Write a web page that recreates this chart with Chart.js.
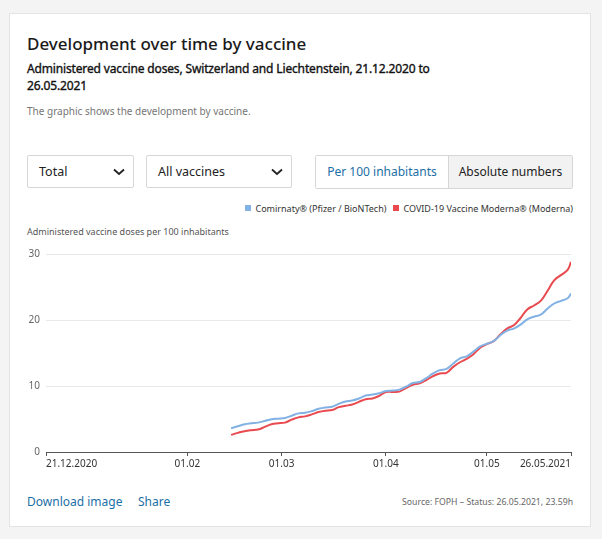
<!DOCTYPE html>
<html>
<head>
<meta charset="utf-8">
<script src="https://cdn.jsdelivr.net/npm/chart.js@4/dist/chart.umd.min.js"></script>
<style>
	body { margin: 0; background: #f4f4f4; font-family: "Noto Sans", sans-serif; }
	#page { position: relative; width: 602px; height: 539px; overflow: hidden; }
	#card { position: absolute; left: 9px; top: 13px; width: 580px; height: 512px; background: #fff; border: 1px solid #e4e4e4; }
	.abs { position: absolute; white-space: nowrap; }
	#title { left: 27px; top: 32px; font-size: 17px; font-weight: 500; color: #1a1a1a; }
	#subtitle { left: 27px; top: 60px; font-size: 12px; color: #111; line-height: 17px; letter-spacing: -0.15px; -webkit-text-stroke: 0.35px #111; }
	#desc { left: 27px; top: 104px; font-size: 10px; color: #767676; }
	.select { position: absolute; top: 155px; height: 33px; border: 1px solid #d6d6d6; border-radius: 2px; box-sizing: border-box; font-size: 12.5px; color: #222; line-height: 31px; padding-left: 11px; }
	.select svg { position: absolute; right: 8px; top: 12px; }
	#toggle { position: absolute; left: 315px; top: 155px; width: 258px; height: 34px; border: 1px solid #d6d6d6; border-radius: 2px; box-sizing: border-box; display: flex; font-size: 12px; line-height: 32px; }
	#toggle div { text-align: center; }
	#legend { right: 29px; top: 202px; font-size: 9px; color: #333; }
	#legend span.box { display: inline-block; width: 6px; height: 6px; margin: 0 4px 1px 0; }
	#axis-title { left: 27px; top: 225px; font-size: 9px; color: #555; }
	#chart-box { position: absolute; left: 0; top: 240px; width: 602px; height: 234px; }
	.link { top: 493px; font-size: 12px; color: #1b6fa6; }
	#source { right: 29px; top: 496px; font-size: 8.7px; color: #666; }
</style>
</head>
<body>
<div id="page">
	<div id="card"></div>
	<div class="abs" id="title">Development over time by vaccine</div>
	<div class="abs" id="subtitle">Administered vaccine doses, Switzerland and Liechtenstein, 21.12.2020 to<br>26.05.2021</div>
	<div class="abs" id="desc">The graphic shows the development by vaccine.</div>

	<div class="select" style="left:27px; width:107px;">Total
		<svg width="12" height="8" viewBox="0 0 12 8"><path d="M1 1.5 L6 6 L11 1.5" fill="none" stroke="#222" stroke-width="1.8"/></svg>
	</div>
	<div class="select" style="left:146px; width:146px;">All vaccines
		<svg width="12" height="8" viewBox="0 0 12 8"><path d="M1 1.5 L6 6 L11 1.5" fill="none" stroke="#222" stroke-width="1.8"/></svg>
	</div>
	<div id="toggle">
		<div style="width:132px; color:#1b6fa6; background:#fff;">Per 100 inhabitants</div>
		<div style="flex:1; color:#222; background:#f2f2f2; border-left:1px solid #d6d6d6;">Absolute numbers</div>
	</div>

	<div class="abs" id="legend">
		<span class="box" style="background:#82b1e3"></span>Comirnaty® (Pfizer / BioNTech)&nbsp;&nbsp;
		<span class="box" style="background:#e84a4f"></span>COVID-19 Vaccine Moderna® (Moderna)
	</div>
	<div class="abs" id="axis-title">Administered vaccine doses per 100 inhabitants</div>

	<div id="chart-box"><canvas id="line-chart"></canvas></div>

	<div class="abs link" style="left:27px;">Download image</div>
	<div class="abs link" style="left:138px;">Share</div>
	<div class="abs" id="source">Source: FOPH – Status: 26.05.2021, 23.59h</div>
</div>

<script>
	// Days since 21.12.2020
	var days = [55, 57, 59, 61, 63, 65, 67, 69, 71, 73, 75, 77, 79, 81, 83, 85, 87, 89, 91, 93,
		95, 97, 99, 101, 103, 105, 107, 109, 111, 113, 115, 117, 119, 121, 123, 125, 127, 129, 131, 133,
		135, 137, 139, 141, 143, 145, 147, 149, 151, 153, 155, 156];

	// Doses per 100 inhabitants
	var pfizer = [3.6, 3.9, 4.2, 4.35, 4.45, 4.7, 4.95, 5.05, 5.15, 5.5, 5.85, 5.95, 6.2, 6.55, 6.75, 6.85, 7.3, 7.65, 7.8, 8.1,
		8.55, 8.7, 8.9, 9.25, 9.3, 9.45, 9.9, 10.45, 10.6, 11.2, 11.9, 12.4, 12.6, 13.4, 14.2, 14.5, 15.2, 16.0, 16.4, 16.8,
		17.7, 18.4, 18.7, 19.3, 20.1, 20.5, 20.8, 21.7, 22.5, 22.9, 23.3, 24.0];
	var moderna = [2.6, 2.9, 3.15, 3.3, 3.4, 3.8, 4.2, 4.35, 4.45, 4.9, 5.25, 5.4, 5.7, 6.05, 6.25, 6.35, 6.8, 7.0, 7.2, 7.6,
		8.0, 8.1, 8.5, 9.1, 9.1, 9.15, 9.7, 10.2, 10.4, 10.9, 11.5, 11.9, 12.0, 12.9, 13.6, 14.1, 14.8, 15.8, 16.35, 16.8,
		17.8, 18.7, 19.2, 20.3, 21.6, 22.2, 22.9, 24.4, 26.0, 26.8, 27.6, 28.8];

	var tickDays = [0, 42, 70, 101, 131, 156];
	var tickLabels = ['21.12.2020', '01.02', '01.03', '01.04', '01.05', '26.05.2021'];

	function toPoints(values) {
		return values.map(function(v, i) { return {x: days[i], y: v}; });
	}

	var ctx = document.getElementById('line-chart').getContext('2d');

	new Chart(ctx, {
		type: 'line',
		data: {
			datasets: [{
				label: 'Comirnaty® (Pfizer / BioNTech)',
				data: toPoints(pfizer),
				borderColor: '#82b1e3',
				borderWidth: 2,
				pointRadius: 0,
				tension: 0.4
			}, {
				label: 'COVID-19 Vaccine Moderna® (Moderna)',
				data: toPoints(moderna),
				borderColor: '#e84a4f',
				borderWidth: 2,
				pointRadius: 0,
				tension: 0.4
			}]
		},
		options: {
			responsive: true,
			maintainAspectRatio: false,
			animation: false,
			layout: {
				padding: {left: 20, right: 31, top: 14, bottom: 0}
			},
			plugins: {
				legend: {display: false},
				tooltip: {enabled: false}
			},
			scales: {
				x: {
					type: 'linear',
					min: 0,
					max: 156,
					afterBuildTicks: function(axis) {
						axis.ticks = tickDays.map(function(d) { return {value: d}; });
					},
					afterFit: function(axis) { axis.height = 22; },
					grid: {
						drawOnChartArea: false,
						drawTicks: true,
						tickLength: 4,
						color: '#555'
					},
					border: {color: '#555', width: 1},
					ticks: {
						align: 'inner',
						maxRotation: 0,
						autoSkip: false,
						padding: 2,
						color: '#333',
						font: {family: 'Noto Sans', size: 10},
						callback: function(value) {
							var i = tickDays.indexOf(value);
							return i >= 0 ? tickLabels[i] : '';
						}
					}
				},
				y: {
					min: 0,
					max: 30,
					afterFit: function(axis) { axis.width = 26; },
					grid: {
						color: '#e8e8e8',
						drawTicks: false
					},
					border: {display: false},
					ticks: {
						stepSize: 10,
						padding: 6,
						color: '#666',
						font: {family: 'Noto Sans', size: 10}
					}
				}
			}
		}
	});
</script>
</body>
</html>
